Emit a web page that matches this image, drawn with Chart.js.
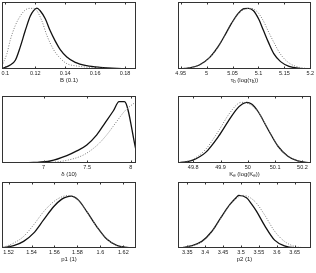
<!DOCTYPE html>
<html><head><meta charset="utf-8">
<script src="https://cdn.jsdelivr.net/npm/chart.js@4"></script>
<style>
html,body{margin:0;padding:0;background:#fff;width:316px;height:273px;overflow:hidden;position:relative}
canvas{position:absolute}
</style>
</head><body>
<canvas id="c0"></canvas><canvas id="c1"></canvas><canvas id="c2"></canvas>
<canvas id="c3"></canvas><canvas id="c4"></canvas><canvas id="c5"></canvas>
<script>
// ---- data ----
const bTicks = [0.1, 0.12, 0.14, 0.16, 0.18];
const bTickLabels = ['0.1', '0.12', '0.14', '0.16', '0.18'];
const bSolid = [[0.0984,0.01],[0.1033,0.06],[0.1067,0.13],[0.11,0.33],[0.1133,0.57],[0.1167,0.79],[0.1189,0.87],[0.1211,0.91],[0.1233,0.87],[0.1267,0.75],[0.13,0.57],[0.1333,0.42],[0.1367,0.29],[0.1411,0.18],[0.1467,0.10],[0.1544,0.05],[0.1633,0.025],[0.1744,0.01],[0.1867,0.003]];
const bDotted = [[0.0984,0.08],[0.1011,0.23],[0.1033,0.43],[0.1067,0.65],[0.11,0.79],[0.1133,0.88],[0.1162,0.905],[0.1189,0.905],[0.1211,0.87],[0.1244,0.72],[0.1278,0.5],[0.1322,0.29],[0.1367,0.16],[0.1411,0.08],[0.1478,0.045],[0.1589,0.02],[0.1744,0.005],[0.1867,0.002]];

const tauTicks = [4.95, 5, 5.05, 5.1, 5.15, 5.2];
const tauTickLabels = ['4.95', '5', '5.05', '5.1', '5.15', '5.2'];
const tauSolid = [[4.9467,0],[4.9663,0.015],[4.9859,0.06],[5.0055,0.17],[5.0218,0.33],[5.0349,0.5],[5.0479,0.68],[5.061,0.83],[5.0721,0.9],[5.0806,0.905],[5.0904,0.87],[5.1001,0.75],[5.1099,0.57],[5.1197,0.39],[5.1295,0.23],[5.1426,0.11],[5.1589,0.04],[5.1785,0.01],[5.2013,0.002]];
const tauDotted = [[4.9467,0],[4.9859,0.055],[5.0055,0.165],[5.0218,0.32],[5.0349,0.49],[5.0479,0.67],[5.061,0.82],[5.0741,0.895],[5.0851,0.905],[5.0969,0.86],[5.1086,0.73],[5.1197,0.55],[5.1295,0.4],[5.1426,0.22],[5.1589,0.09],[5.1785,0.025],[5.2013,0.003]];

const deltaTicks = [7, 7.5, 8];
const deltaTickLabels = ['7', '7.5', '8'];
const deltaSolid = [[6.5344,0],[6.7328,0.002],[6.8855,0.008],[7.0763,0.03],[7.2672,0.11],[7.3817,0.18],[7.4962,0.27],[7.6107,0.42],[7.7061,0.6],[7.8015,0.78],[7.8664,0.915],[7.9275,0.915],[8.061,0.19]];
const deltaDotted = [[6.5344,0],[7.0763,0.01],[7.2672,0.04],[7.458,0.12],[7.6107,0.26],[7.7252,0.42],[7.8397,0.62],[7.9351,0.78],[8.061,0.915]];

const keTicks = [49.8, 49.9, 50, 50.1, 50.2];
const keTickLabels = ['49.8', '49.9', '50', '50.1', '50.2'];
const keSolid = [[49.7481,0.003],[49.7964,0.04],[49.8447,0.155],[49.893,0.4],[49.9292,0.63],[49.9594,0.805],[49.98,0.88],[49.9957,0.905],[50.0138,0.88],[50.0379,0.765],[50.0741,0.5],[50.1104,0.25],[50.1466,0.1],[50.1828,0.03],[50.2275,0.003]];
const keDotted = [[49.7481,0.005],[49.7964,0.05],[49.8447,0.2],[49.893,0.48],[49.9292,0.72],[49.9594,0.87],[49.9751,0.905],[49.9957,0.895],[50.0198,0.84],[50.044,0.73],[50.0741,0.5],[50.1104,0.25],[50.1466,0.1],[50.1828,0.03],[50.2275,0.003]];

const p1Ticks = [1.52, 1.54, 1.56, 1.58, 1.6, 1.62];
const p1TickLabels = ['1.52', '1.54', '1.56', '1.58', '1.6', '1.62'];
const p1Solid = [[1.5152,0.003],[1.5245,0.035],[1.5331,0.1],[1.5418,0.225],[1.5505,0.425],[1.5592,0.625],[1.5664,0.74],[1.5708,0.775],[1.5743,0.785],[1.5809,0.725],[1.5882,0.55],[1.5968,0.325],[1.6055,0.135],[1.6142,0.04],[1.6229,0.01],[1.6301,0.002]];
const p1Dotted = [[1.5152,0.01],[1.5245,0.075],[1.5331,0.175],[1.5418,0.35],[1.5505,0.55],[1.5592,0.7],[1.5664,0.775],[1.5722,0.795],[1.5781,0.76],[1.5839,0.66],[1.5882,0.55],[1.5968,0.325],[1.6055,0.135],[1.6142,0.04],[1.6229,0.01],[1.6301,0.002]];

const p2Ticks = [3.35, 3.4, 3.45, 3.5, 3.55, 3.6, 3.65];
const p2TickLabels = ['3.35', '3.4', '3.45', '3.5', '3.55', '3.6', '3.65'];
const p2Solid = [[3.3306,0],[3.3629,0.035],[3.3907,0.1],[3.4184,0.25],[3.4461,0.48],[3.4692,0.66],[3.4877,0.77],[3.494,0.797],[3.5154,0.76],[3.5293,0.67],[3.5432,0.56],[3.5663,0.34],[3.594,0.12],[3.6217,0.033],[3.6494,0.005],[3.691,0]];
const p2Dotted = [[3.3306,0],[3.3907,0.095],[3.4184,0.24],[3.4461,0.47],[3.4692,0.65],[3.4877,0.755],[3.5062,0.797],[3.5247,0.765],[3.5432,0.68],[3.5663,0.5],[3.594,0.255],[3.6217,0.1],[3.6494,0.025],[3.6772,0.005],[3.691,0.002]];

// ---- layout ----
const AXH = 20;
const panels = [
  {id:'c0', box:[2,2,136,69],    min:0.0978, max:0.1873, ticks:bTicks, labels:bTickLabels, solid:bSolid, dotted:bDotted, title:'B (0.1)'},
  {id:'c1', box:[178,2,311,69],  min:4.9448, max:5.2013, ticks:tauTicks, labels:tauTickLabels, solid:tauSolid, dotted:tauDotted, title:'τ_b (log(τ_b))'},
  {id:'c2', box:[2,96,136,163],  min:6.523, max:8.061, ticks:deltaTicks, labels:deltaTickLabels, solid:deltaSolid, dotted:deltaDotted, title:'δ (10)'},
  {id:'c3', box:[178,96,311,163],min:49.7444, max:50.2312, ticks:keTicks, labels:keTickLabels, solid:keSolid, dotted:keDotted, title:'K_e (log(K_e))'},
  {id:'c4', box:[2,182,136,248], min:1.5143, max:1.631, ticks:p1Ticks, labels:p1TickLabels, solid:p1Solid, dotted:p1Dotted, title:'p1 (1)'},
  {id:'c5', box:[178,182,311,248],min:3.3241, max:3.6957, ticks:p2Ticks, labels:p2TickLabels, solid:p2Solid, dotted:p2Dotted, title:'p2 (1)'}
];

const FONT = '"Liberation Sans", Arial, sans-serif';

const boxPlugin = {
  id: 'matbox',
  afterDraw(chart, args, opts) {
    const {ctx, chartArea: a} = chart;
    const x = chart.scales.x;
    ctx.save();
    ctx.strokeStyle = '#333';
    ctx.lineWidth = 1;
    const l = Math.round(a.left) + 0.5, t = Math.round(a.top) + 0.5;
    const r = Math.round(a.right) - 0.5, b = Math.round(a.bottom) - 0.5;
    ctx.strokeRect(l, t, r - l, b - t);
    ctx.beginPath();
    x.ticks.forEach(tk => {
      const px = Math.round(x.getPixelForValue(tk.value)) + 0.5;
      ctx.moveTo(px, b); ctx.lineTo(px, b - 2);
      ctx.moveTo(px, t); ctx.lineTo(px, t + 2);
    });
    ctx.stroke();
    // title with simple subscript support
    const txt = opts.title || '';
    const segs = [];
    for (let i = 0; i < txt.length; i++) {
      if (txt[i] === '_' && i + 1 < txt.length) { segs.push({t: txt[i+1], sub: true}); i++; }
      else {
        if (segs.length && !segs[segs.length-1].sub) segs[segs.length-1].t += txt[i];
        else segs.push({t: txt[i], sub: false});
      }
    }
    const mainF = '6px ' + FONT, subF = '4.5px ' + FONT;
    let w = 0;
    segs.forEach(s => { ctx.font = s.sub ? subF : mainF; s.w = ctx.measureText(s.t).width; w += s.w; });
    let cx = (a.left + a.right) / 2 - w / 2;
    const cy = a.bottom + 11.5;
    ctx.fillStyle = '#222';
    ctx.textBaseline = 'middle';
    ctx.textAlign = 'left';
    segs.forEach(s => {
      ctx.font = s.sub ? subF : mainF;
      ctx.fillText(s.t, cx, s.sub ? cy + 1.5 : cy);
      cx += s.w;
    });
    ctx.restore();
  }
};

panels.forEach(p => {
  const c = document.getElementById(p.id);
  const [L, T, R, B] = p.box;
  c.width = R - L + 20;
  c.height = B - T + 2 + AXH;
  c.style.left = (L - 10) + 'px';
  c.style.top = (T - 2) + 'px';
  new Chart(c, {
    type: 'line',
    data: {
      datasets: [
        {data: p.dotted.map(d => ({x: d[0], y: d[1]})), borderColor: '#7a7a7a', borderWidth: 1, borderDash: [1, 1.6], pointRadius: 0, cubicInterpolationMode: 'monotone', fill: false},
        {data: p.solid.map(d => ({x: d[0], y: d[1]})), borderColor: '#111', borderWidth: 1.3, pointRadius: 0, cubicInterpolationMode: 'monotone', fill: false}
      ]
    },
    options: {
      responsive: false, animation: false, devicePixelRatio: 1,
      layout: {padding: {left: 10, right: 10, top: 2, bottom: 0}},
      plugins: {legend: {display: false}, tooltip: {enabled: false}, matbox: {title: p.title}},
      scales: {
        x: {
          type: 'linear', min: p.min, max: p.max, bounds: 'data', offset: false,
          grid: {display: false, drawTicks: false, tickLength: 0}, border: {display: false},
          afterBuildTicks: s => { s.ticks = p.ticks.map(v => ({value: v})); },
          afterFit: s => { s.height = AXH; },
          ticks: {autoSkip: false, maxRotation: 0, minRotation: 0, padding: 1,
                  font: {family: FONT, size: 5.5}, color: '#222',
                  callback: (v, i) => p.labels[i]}
        },
        y: {display: false, min: 0, max: 1}
      }
    },
    plugins: [boxPlugin]
  });
});
</script>
</body></html>
